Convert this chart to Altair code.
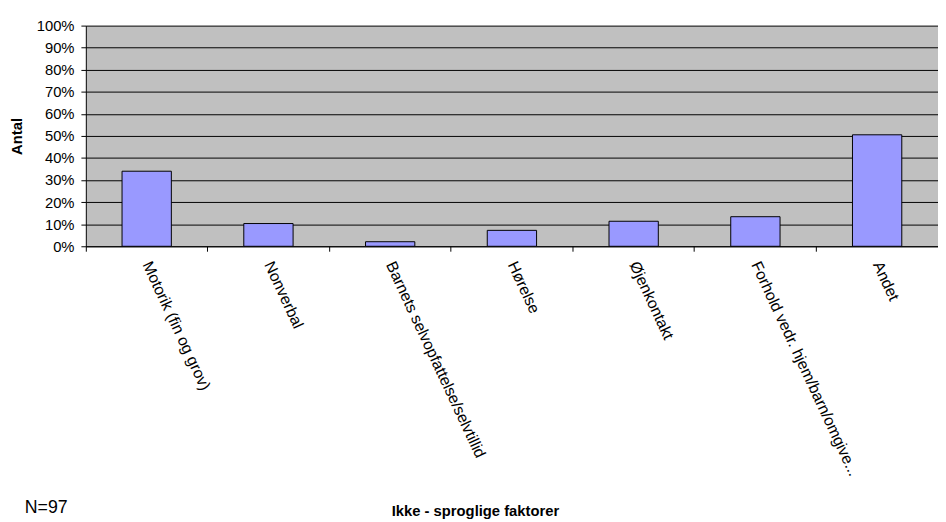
import altair as alt
import pandas as pd

categories = [
    "Motorik (fin og grov)",
    "Nonverbal",
    "Barnets selvopfattelse/selvtillid",
    "Hørelse",
    "Øjenkontakt",
    "Forhold vedr. hjem/barn/omgive...",
    "Andet",
]
counts = [33, 10, 2, 7, 11, 13, 49]
n_total = 97
y_ticks = [0, 0.1, 0.2, 0.3, 0.4, 0.5, 0.6, 0.7, 0.8, 0.9, 1.0]
note = "N=97"
x_title = "Ikke - sproglige faktorer"
y_title = "Antal"

df = pd.DataFrame({"kategori": categories, "andel": [c / n_total for c in counts]})
note_df = pd.DataFrame({"t": [note]})

FONT = "Liberation Sans"
xscale = alt.Scale(paddingInner=0, paddingOuter=0)

bars = alt.Chart(df).mark_bar(
    width=alt.RelativeBandSize(0.405), color="#9999FF", stroke="black", strokeWidth=1
).encode(
    x=alt.X(
        "kategori:N", sort=categories, scale=xscale,
        axis=alt.Axis(
            orient="bottom", title=x_title, labelAngle=65, labelAlign="left",
            labelBaseline="middle", labelPadding=16, ticks=False, tickSize=0,
            domain=True, domainColor="black", labelFont=FONT, labelFontSize=16,
            labelColor="black", labelLimit=0, titleFont=FONT, titleFontSize=15,
            titleFontWeight="bold", titleColor="black", titleX=395, titleY=273,
            titleAlign="center", titleBaseline="alphabetic", grid=False,
        ),
    ),
    y=alt.Y(
        "andel:Q", scale=alt.Scale(domain=[0, 1]),
        axis=alt.Axis(
            values=y_ticks, format=".0%", orient="left", title=y_title,
            domainColor="black", tickColor="black", tickSize=5, labelPadding=7,
            gridColor="black", gridWidth=1, labelFont=FONT, labelFontSize=15,
            labelColor="black", titleFont=FONT, titleFontSize=15,
            titleFontWeight="bold", titleColor="black", titleX=-70, titleY=112,
            titleBaseline="middle", titleAngle=270,
        ),
    ),
)

ticks = alt.Chart(df).mark_point(opacity=0).encode(
    x=alt.X(
        "kategori:N", sort=categories, scale=xscale,
        axis=alt.Axis(
            orient="bottom", title="", bandPosition=0, labels=False, domain=False,
            ticks=True, tickSize=5, tickColor="black", grid=False,
        ),
    ),
)

note_text = alt.Chart(note_df).mark_text(
    align="left", baseline="alphabetic", font=FONT, fontSize=18, color="black"
).encode(text="t:N", x=alt.value(-62), y=alt.value(495))

chart = alt.layer(bars, ticks, note_text).resolve_axis(x="independent").properties(
    width=865, height=224,
    autosize=alt.AutoSizeParams(type="none"),
    padding={"left": 79, "top": 14, "right": 0, "bottom": 276},
    background="white",
).configure_view(fill="#C0C0C0", stroke="transparent")

chart.save("out.html", embed_options={"renderer": "svg", "actions": False})
